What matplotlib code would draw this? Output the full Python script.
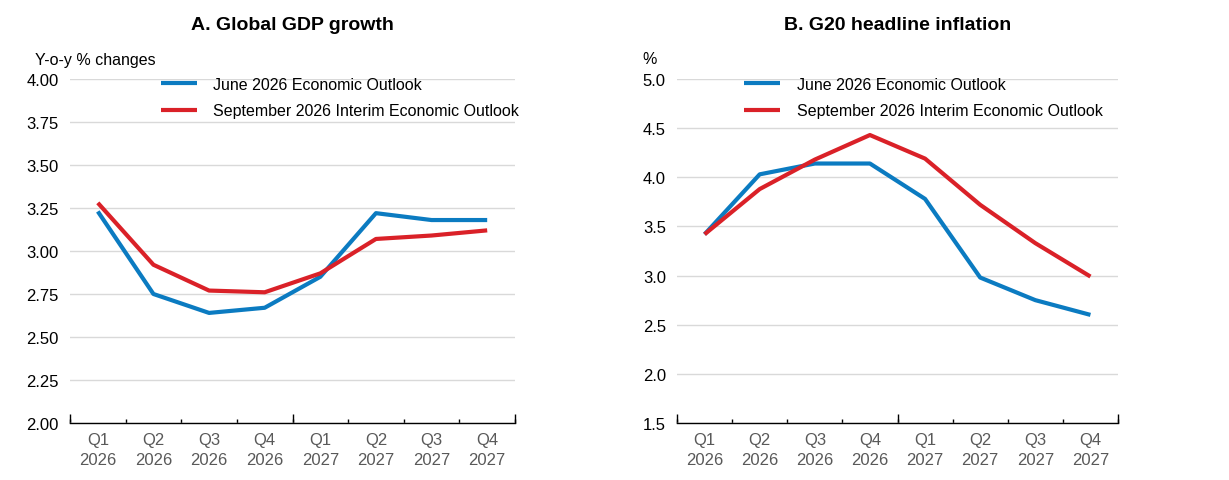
import matplotlib
matplotlib.use("Agg")
import matplotlib.pyplot as plt

plt.rcParams['font.family'] = ['Liberation Sans', 'DejaVu Sans']

quarters = ["Q1\n2026", "Q2\n2026", "Q3\n2026", "Q4\n2026",
            "Q1\n2027", "Q2\n2027", "Q3\n2027", "Q4\n2027"]
series_names = ["June 2026 Economic Outlook", "September 2026 Interim Economic Outlook"]

gdp_june = [3.23, 2.75, 2.64, 2.67, 2.85, 3.22, 3.18, 3.18]
gdp_sept = [3.28, 2.92, 2.77, 2.76, 2.87, 3.07, 3.09, 3.12]

infl_june = [3.42, 4.03, 4.14, 4.14, 3.78, 2.98, 2.75, 2.60]
infl_sept = [3.42, 3.88, 4.18, 4.43, 4.19, 3.72, 3.33, 2.99]

blue = '#0B7BC1'
red = '#DA2128'
grid_col = '#D9D9D9'
W, H = 1229, 481

fig = plt.figure(figsize=(W / 100, H / 100), dpi=100)


def panel(left, right, title, june, sept, yticks, yfmt, leg_x):
    ax = fig.add_axes([left / W, 1 - 424 / H, (right - left) / W, (424 - 80) / H])
    x = range(len(quarters))
    ax.plot(x, june, color=blue, lw=3, label=series_names[0], solid_capstyle='butt')
    ax.plot(x, sept, color=red, lw=3, label=series_names[1], solid_capstyle='butt')
    ax.set_xlim(-0.5, len(quarters) - 0.5)
    ax.set_ylim(yticks[0], yticks[-1])
    ax.set_yticks(yticks)
    ax.set_yticklabels([yfmt.format(v) for v in yticks])
    ax.tick_params(axis='y', length=0, pad=8, labelsize=12, labelcolor='black')
    ax.grid(axis='y', color=grid_col, lw=1)
    ax.set_axisbelow(True)
    for s in ['top', 'right', 'left']:
        ax.spines[s].set_visible(False)
    ax.spines['bottom'].set_color('black')
    ax.spines['bottom'].set_linewidth(1)

    # labels at category centres, short ticks at boundaries
    ax.set_xticks([i + 0.5 for i in range(-1, len(quarters))])
    ax.set_xticklabels([])
    ax.tick_params(axis='x', which='major', direction='in', length=3, width=1, color='black')
    ax.set_xticks(list(x), minor=True)
    ax.set_xticklabels(quarters, minor=True)
    ax.tick_params(axis='x', which='minor', length=0, pad=6.5, labelsize=12, labelcolor='#595959')
    for lab in ax.get_xticklabels(minor=True):
        lab.set_linespacing(1.4)

    # longer ticks at ends and year break
    sec = ax.secondary_xaxis('bottom')
    sec.set_xticks([-0.5, 3.5, len(quarters) - 0.5])
    sec.set_xticklabels([])
    sec.tick_params(direction='in', length=6.5, width=1, color='black')
    sec.spines['bottom'].set_visible(False)

    ax.legend(loc='upper left', bbox_to_anchor=(leg_x, 1.006), frameon=False, fontsize=11.5,
              borderpad=0, borderaxespad=0, handlelength=2.25, handletextpad=1.05,
              labelspacing=0.72)

    fig.text((left + right) / 2 / W, 1 - 26 / H, title, ha='center', va='center',
             fontsize=14, fontweight='bold')
    return ax


ax1 = panel(70, 515, "A. Global GDP growth", gdp_june, gdp_sept,
            [2.0, 2.25, 2.5, 2.75, 3.0, 3.25, 3.5, 3.75, 4.0], "{:.2f}", 0.204)
fig.text(35 / W, 1 - 60 / H, "Y-o-y % changes", ha='left', va='center', fontsize=11.5)

ax2 = panel(677, 1118, "B. G20 headline inflation", infl_june, infl_sept,
            [1.5, 2.0, 2.5, 3.0, 3.5, 4.0, 4.5, 5.0], "{:.1f}", 0.152)
fig.text(642 / W, 1 - 60 / H, "%", ha='left', va='center', fontsize=11.5)

fig.savefig("out.png", dpi=100)
